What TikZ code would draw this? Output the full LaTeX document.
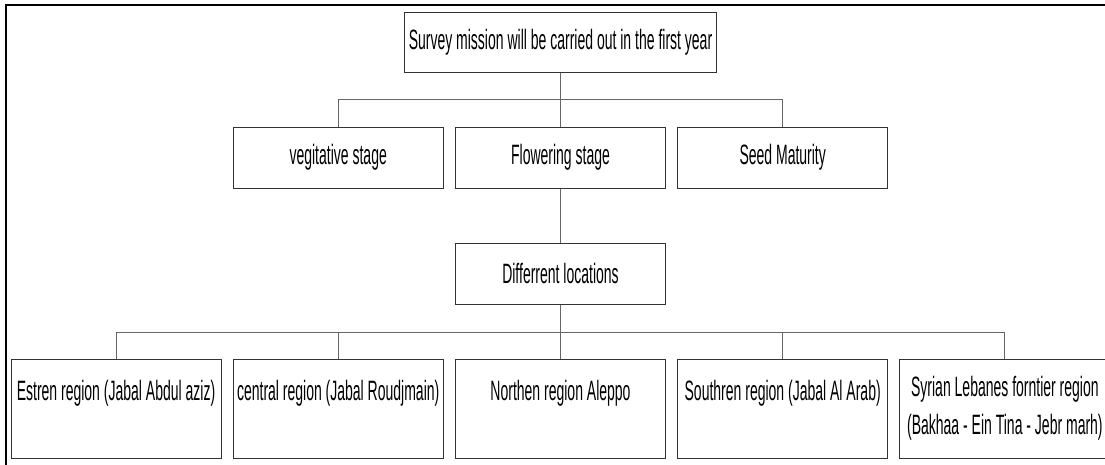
\documentclass[tikz,border=0pt]{standalone}
\usepackage{fontspec}
\setmainfont{Liberation Sans}[FakeStretch=0.5]
\begin{document}
\begin{tikzpicture}[x=1pt,y=-1pt,
  box/.style={draw=black!80, line width=1pt, rectangle, inner sep=0pt,
    minimum width=210pt, font=\fontsize{28}{38}\selectfont, align=center},
  topbox/.style={box, text height=41pt, text depth=58pt},
  conn/.style={draw=black!60, line width=1pt},
  frameline/.style={draw=black, line width=2pt}]
\useasboundingbox (0,0) rectangle (1105,464);
\draw[frameline] (6,470) -- (6,5) -- (1110,5);
\node[box, minimum width=312pt, minimum height=60pt] (top) at (560.5,42) {Survey mission will be carried out in the first year};
\node[box, minimum height=61pt] (veg) at (338.2,157.5) {vegitative stage};
\node[box, minimum height=61pt] (flo) at (560.5,157.5) {Flowering stage};
\node[box, minimum height=61pt] (seed) at (782.7,157.5) {Seed Maturity};
\node[box, minimum height=61pt] (loc) at (560.5,273.5) {Differrent locations};
\node[topbox] (r1) at (116,408.5) {Estren region (Jabal Abdul aziz)};
\node[topbox] (r2) at (338.2,408.5) {central region (Jabal Roudjmain)};
\node[topbox] (r3) at (560.5,408.5) {Northen region Aleppo};
\node[topbox] (r4) at (782.7,408.5) {Southren region (Jabal Al Arab)};
\node[box, minimum height=99pt] (r5) at (1004.9,408.5) {Syrian Lebanes forntier region\\(Bakhaa - Ein Tina - Jebr marh)};
\draw[conn] (top.south) -- ++(0,27) coordinate (j1);
\draw[conn] (veg.north) |- (j1) -| (seed.north);
\draw[conn] (j1) -- (flo.north);
\draw[conn] (flo.south) -- (loc.north);
\draw[conn] (loc.south) -- ++(0,28) coordinate (j2);
\draw[conn] (r1.north) |- (j2) -| (r5.north);
\draw[conn] (r2.north) |- (j2);
\draw[conn] (r4.north) |- (j2);
\draw[conn] (j2) -- (r3.north);
\end{tikzpicture}
\end{document}
